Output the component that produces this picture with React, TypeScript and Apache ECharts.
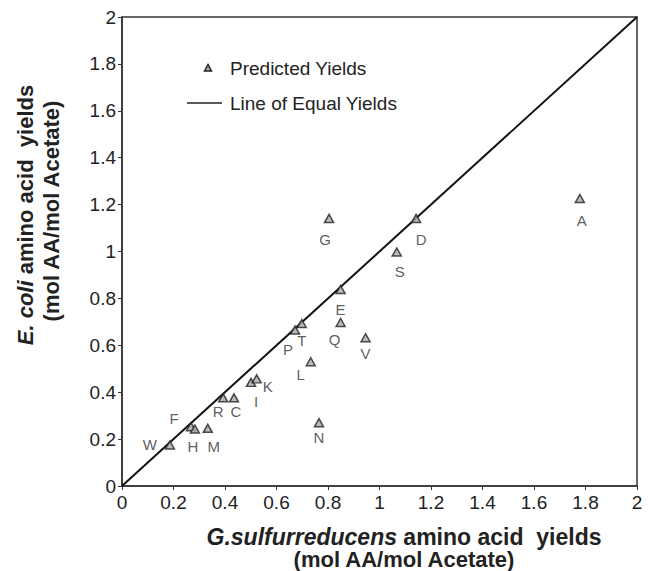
import React, { useEffect, useRef } from "react";
import * as echarts from "echarts";

const aminoAcids = ["W", "F", "H", "M", "R", "C", "I", "K", "P", "T", "L", "N", "E", "Q", "V", "G", "D", "S", "A"];
const gsYields = [0.186, 0.268, 0.283, 0.333, 0.393, 0.435, 0.501, 0.523, 0.672, 0.698, 0.733, 0.765, 0.849, 0.849, 0.946, 0.804, 1.142, 1.067, 1.778];
const ecYields = [0.175, 0.253, 0.243, 0.246, 0.376, 0.376, 0.442, 0.457, 0.665, 0.693, 0.530, 0.270, 0.838, 0.697, 0.632, 1.141, 1.141, 0.998, 1.226];
const equalLine = [[0, 0], [2, 2]];
const tickValues = [0, 0.2, 0.4, 0.6, 0.8, 1, 1.2, 1.4, 1.6, 1.8, 2];

// label offsets (styling, px)
const labelOffset: Record<string, [number, number]> = {
  W: [-20, 0], F: [-17, -8], H: [-2, 17], M: [6, 18], R: [-5, 14], C: [2, 14],
  I: [5, 19], K: [11, 8], P: [-7, 19], T: [0, 17], L: [-10, 13], N: [0, 15],
  E: [0, 20], Q: [-6, 17], V: [0, 16], G: [-4, 21], D: [5, 21], S: [3, 20], A: [2, 22],
};

export default function App() {
  const ref = useRef<HTMLDivElement>(null);
  useEffect(() => {
    const chart = echarts.init(ref.current!, null, { renderer: "svg" });
    const font = "Liberation Sans, Arial, sans-serif";
    const points = aminoAcids.map((n, i) => ({
      name: n,
      value: [gsYields[i], ecYields[i]],
      label: { offset: labelOffset[n] },
    }));
    chart.setOption({
      animation: false,
      backgroundColor: "#fff",
      grid: { left: 122, right: 11, top: 17, bottom: 85, show: true, borderColor: "#333", borderWidth: 1.5 },
      xAxis: {
        type: "value", min: 0, max: 2, interval: 0.2,
        axisLine: { show: true, lineStyle: { color: "#333", width: 1.5 } },
        axisTick: { show: true, length: 4, lineStyle: { color: "#333" } },
        splitLine: { show: false },
        axisLabel: { color: "#222", fontSize: 19, fontFamily: font, margin: 7,
          formatter: (v: number) => String(tickValues.find((t) => Math.abs(t - v) < 1e-6) ?? v) },
      },
      yAxis: {
        type: "value", min: 0, max: 2, interval: 0.2,
        axisLine: { show: true, lineStyle: { color: "#333", width: 1.5 } },
        axisTick: { show: true, length: 4, lineStyle: { color: "#333" } },
        splitLine: { show: false },
        axisLabel: { color: "#222", fontSize: 19, fontFamily: font, margin: 6 },
      },
      series: [
        {
          type: "line", data: equalLine, symbol: "none",
          lineStyle: { color: "#111", width: 2 }, silent: true, z: 2,
        },
        {
          type: "scatter", data: points, symbol: "triangle", symbolSize: [9, 8],
          itemStyle: { color: "#aaa", borderColor: "#222", borderWidth: 1.5 },
          label: { show: true, formatter: "{b}", position: "inside", color: "#333", fontSize: 15, fontFamily: font },
          z: 3,
        },
      ],
      graphic: [
        { type: "polygon", shape: { points: [[208, 64.5], [204.5, 71], [211.5, 71]] },
          style: { fill: "#aaa", stroke: "#222", lineWidth: 1.5 } },
        { type: "text", x: 230, y: 68, style: { text: "Predicted Yields", font: `19px ${font}`, fill: "#222", textVerticalAlign: "middle" } },
        { type: "line", shape: { x1: 187, y1: 103, x2: 222, y2: 103 }, style: { stroke: "#222", lineWidth: 1.5 } },
        { type: "text", x: 230, y: 103, style: { text: "Line of Equal Yields", font: `19px ${font}`, fill: "#222", textVerticalAlign: "middle" } },
        { type: "text", x: 404, y: 537, style: {
            text: "{i|G.sulfurreducens} amino acid  yields", font: `bold 23px ${font}`, fill: "#222",
            textAlign: "center", textVerticalAlign: "middle",
            rich: { i: { fontStyle: "italic", fontWeight: "bold", fontSize: 23, fontFamily: font, fill: "#222" } } } },
        { type: "text", x: 404, y: 559, style: {
            text: "(mol AA/mol Acetate)", font: `bold 22px ${font}`, fill: "#222",
            textAlign: "center", textVerticalAlign: "middle" } },
        { type: "text", x: 25, y: 215, rotation: Math.PI / 2, style: {
            text: "{i|E. coli} amino acid  yields", font: `bold 22px ${font}`, fill: "#222",
            textAlign: "center", textVerticalAlign: "middle",
            rich: { i: { fontStyle: "italic", fontWeight: "bold", fontSize: 22, fontFamily: font, fill: "#222" } } } },
        { type: "text", x: 51, y: 211, rotation: Math.PI / 2, style: {
            text: "(mol AA/mol Acetate)", font: `bold 22px ${font}`, fill: "#222",
            textAlign: "center", textVerticalAlign: "middle" } },
      ],
    });
    return () => chart.dispose();
  }, []);
  return <div ref={ref} style={{ position: "absolute", left: 0, top: 0, width: 648, height: 571 }} />;
}
